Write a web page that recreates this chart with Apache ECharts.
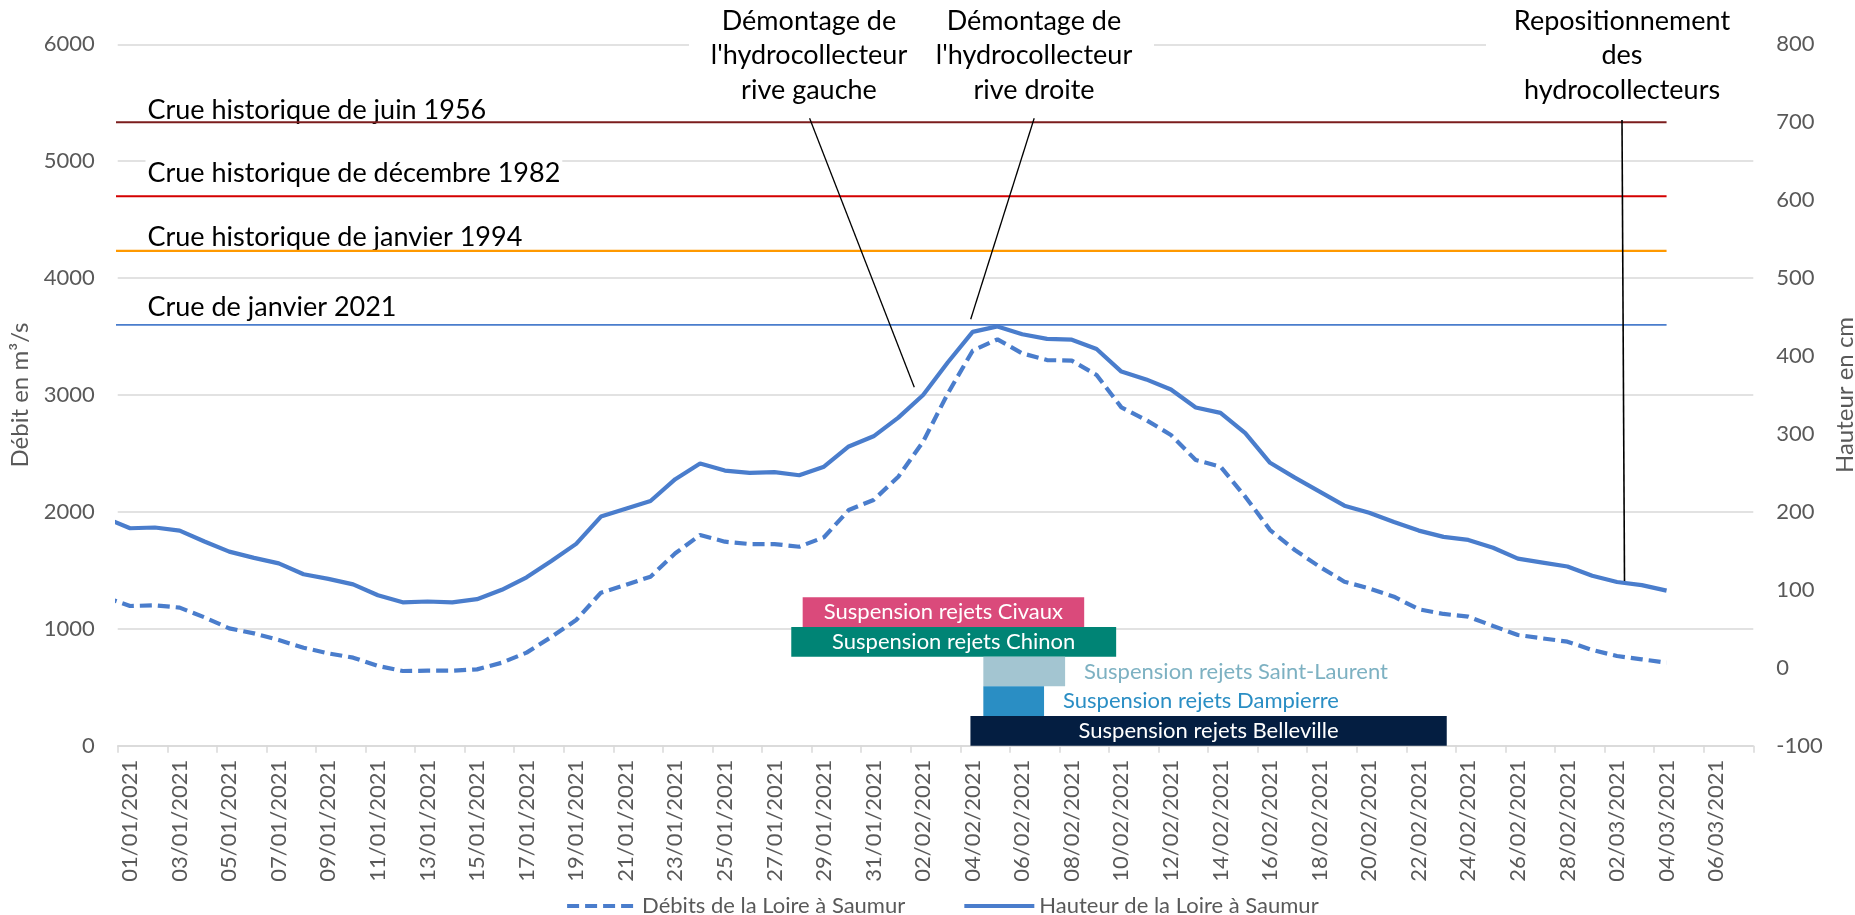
<!DOCTYPE html>
<html>
<head>
<meta charset="utf-8">
<script src="https://cdn.jsdelivr.net/npm/echarts@6/dist/echarts.min.js"></script>
<style>
html,body{margin:0;padding:0;background:#fff;}
#c{width:1855px;height:915px;}
</style>
</head>
<body>
<div id="c"></div>
<script>
// ---------- DATA ----------
const dates = [
  '01/01/2021','02/01/2021','03/01/2021','04/01/2021','05/01/2021','06/01/2021','07/01/2021','08/01/2021','09/01/2021','10/01/2021',
  '11/01/2021','12/01/2021','13/01/2021','14/01/2021','15/01/2021','16/01/2021','17/01/2021','18/01/2021','19/01/2021','20/01/2021',
  '21/01/2021','22/01/2021','23/01/2021','24/01/2021','25/01/2021','26/01/2021','27/01/2021','28/01/2021','29/01/2021','30/01/2021',
  '31/01/2021','01/02/2021','02/02/2021','03/02/2021','04/02/2021','05/02/2021','06/02/2021','07/02/2021','08/02/2021','09/02/2021',
  '10/02/2021','11/02/2021','12/02/2021','13/02/2021','14/02/2021','15/02/2021','16/02/2021','17/02/2021','18/02/2021','19/02/2021',
  '20/02/2021','21/02/2021','22/02/2021','23/02/2021','24/02/2021','25/02/2021','26/02/2021','27/02/2021','28/02/2021','01/03/2021',
  '02/03/2021','03/03/2021','04/03/2021','05/03/2021','06/03/2021','07/03/2021'
];
// values start on 31/12/2020 (day index -1), end on 04/03/2021
const seriesFirstDay = -1;
const debits = [1269,
  1195,1201,1181,1098,1004,961,904,838,790,753,
  682,639,642,642,653,710,796,930,1075,1309,
  1375,1446,1646,1802,1745,1725,1725,1702,1783,2016,
  2102,2301,2601,3014,3379,3476,3356,3299,3294,3171,
  2894,2786,2658,2444,2387,2130,1845,1674,1531,1403,
  1345,1275,1167,1127,1104,1024,947,918,890,819,
  767,739,710];
const hauteurs = [192,
  179,180,176,162,149,141,134,120,114,107,
  93,84,85,84,88,100,116,137,159,194,
  204,214,242,262,253,250,251,247,258,284,
  297,321,350,392,431,438,428,422,421,409,
  380,370,357,334,327,301,263,244,226,208,
  199,187,176,168,164,154,140,135,130,118,
  110,106,99];
const seriesNames = ['Débits de la Loire à Saumur', 'Hauteur de la Loire à Saumur'];

const crueNames = ['Crue historique de juin 1956', 'Crue historique de décembre 1982', 'Crue historique de janvier 1994', 'Crue de janvier 2021'];
const crueLevels = [700, 605, 535, 440];   // cm
const crueFirstDay = -1, crueLastDay = 62;

const ganttNames = ['Suspension rejets Civaux', 'Suspension rejets Chinon', 'Suspension rejets Saint-Laurent', 'Suspension rejets Dampierre', 'Suspension rejets Belleville'];
const ganttStart = [27.64, 27.18, 34.93, 34.93, 34.41]; // in days from 01/01 00h
const ganttEnd   = [39.00, 40.29, 38.23, 37.38, 53.63];

const leftAxis = {min: 0, max: 6000, interval: 1000};
const rightAxis = {min: -100, max: 800, interval: 100};

const annotations = [
  "Démontage de\nl'hydrocollecteur\nrive gauche",
  "Démontage de\nl'hydrocollecteur\nrive droite",
  "Repositionnement\ndes\nhydrocollecteurs"
];

// ---------- STYLE ----------
const FONT = 'Lato, sans-serif';
const GREY = '#595959';
const GRID = '#d9d9d9';
const BLUE = '#4a7dcc';
const crueColors = ['#7b1d1d', '#d40000', '#ff9900', BLUE];
const crueWidths = [2.2, 2.2, 2.2, 1.8];
const ganttColors = ['#da4a7b', '#008475', '#a3c5d1', '#2a8ec4', '#041e41'];
const ganttInside = [true, true, false, false, true];
const ganttTextColors = ['#fff', '#fff', '#7db1c2', '#2a8ec4', '#fff'];

const G = {left: 117.7, right: 101.7, top: 44.3, bottom: 169.3};

const chart = echarts.init(document.getElementById('c'), null, {renderer: 'canvas'});

const toXY = (arr, first) => arr.map((v, k) => [first + k + 0.5, v]);

const series = [];
crueLevels.forEach((lvl, i) => {
  series.push({
    type: 'line', name: crueNames[i], xAxisIndex: 1, yAxisIndex: 1,
    data: [[crueFirstDay + 0.5, lvl], [crueLastDay + 0.5, lvl]],
    symbol: 'none', silent: true, z: 2,
    lineStyle: {color: crueColors[i], width: crueWidths[i]}
  });
});
series.push({
  type: 'line', name: seriesNames[0], xAxisIndex: 1, yAxisIndex: 0,
  data: toXY(debits, seriesFirstDay), symbol: 'none', z: 3,
  lineStyle: {color: BLUE, width: 4.2, type: [12, 6]}, itemStyle: {color: BLUE}
});
series.push({
  type: 'line', name: seriesNames[1], xAxisIndex: 1, yAxisIndex: 1,
  data: toXY(hauteurs, seriesFirstDay), symbol: 'none', z: 3,
  lineStyle: {color: BLUE, width: 4.2}, itemStyle: {color: BLUE}
});
series.push({
  type: 'custom', xAxisIndex: 2, yAxisIndex: 2, z: 4, silent: true,
  encode: {x: [1, 2], y: 0},
  data: ganttNames.map((n, i) => [i, ganttStart[i], ganttEnd[i]]),
  renderItem: (params, api) => {
    const i = params.dataIndex;
    const row = api.value(0);
    const p0 = api.coord([api.value(1), row]);
    const p1 = api.coord([api.value(2), row]);
    const h = api.size([0, 1])[1];
    const inside = ganttInside[i];
    return {
      type: 'group',
      children: [
        {type: 'rect', shape: {x: p0[0], y: p0[1] - h / 2, width: p1[0] - p0[0], height: h},
         style: {fill: ganttColors[i]}},
        {type: 'text', style: {
          text: ganttNames[i], x: inside ? (p0[0] + p1[0]) / 2 : p1[0] + 19, y: p0[1],
          fill: ganttTextColors[i], font: '22px ' + FONT,
          align: inside ? 'center' : 'left', verticalAlign: 'middle'}}
      ]
    };
  }
});

const annoFont = '27px ' + FONT;
const graphic = [
  // white boxes behind the annotations
  {type: 'rect', z: 1, shape: {x: 689, y: 0, width: 465, height: 112}, style: {fill: '#fff'}},
  {type: 'rect', z: 1, shape: {x: 1486, y: 0, width: 275, height: 112}, style: {fill: '#fff'}},
  {type: 'text', z: 1, style: {text: annotations[0], x: 809, y: 4, align: 'center', verticalAlign: 'top', lineHeight: 34.5, font: annoFont, fill: '#000'}},
  {type: 'text', z: 1, style: {text: annotations[1], x: 1034, y: 4, align: 'center', verticalAlign: 'top', lineHeight: 34.5, font: annoFont, fill: '#000'}},
  {type: 'text', z: 1, style: {text: annotations[2], x: 1622, y: 4, align: 'center', verticalAlign: 'top', lineHeight: 34.5, font: annoFont, fill: '#000'}},
  // leader lines
  {type: 'line', z: 5, shape: {x1: 809.6, y1: 118.3, x2: 914.3, y2: 387.3}, style: {stroke: '#000', lineWidth: 1.3}},
  {type: 'line', z: 5, shape: {x1: 1034.2, y1: 118.3, x2: 970.7, y2: 319.3}, style: {stroke: '#000', lineWidth: 1.3}},
  {type: 'line', z: 5, shape: {x1: 1622, y1: 120, x2: 1624.5, y2: 581}, style: {stroke: '#000', lineWidth: 1.6}}
];
const crueLabelY = [110.2, 173.6, 236.9, 306.9];
crueNames.forEach((n, i) => {
  graphic.push({type: 'text', z: 1, style: {
    text: n, x: 145.5, y: crueLabelY[i], align: 'left', verticalAlign: 'middle',
    font: annoFont, fill: '#000', backgroundColor: '#fff', padding: [4, 2, 1, 2]}});
});

chart.setOption({
  animation: false,
  backgroundColor: '#fff',
  textStyle: {fontFamily: FONT},
  grid: [
    Object.assign({containLabel: false, outerBoundsMode: 'none'}, G),
    {left: G.left, right: G.right, top: 597.3, bottom: G.bottom, containLabel: false, outerBoundsMode: 'none'}
  ],
  legend: {
    data: seriesNames, left: 560, top: 890, itemWidth: 70, itemHeight: 14, itemGap: 57,
    selectedMode: false,
    itemStyle: {opacity: 0},
    lineStyle: {width: 4.2},
    textStyle: {color: GREY, fontSize: 22, fontFamily: FONT}
  },
  xAxis: [
    {type: 'category', gridIndex: 0, data: dates, boundaryGap: true,
     axisLine: {lineStyle: {color: GRID, width: 1.5}},
     axisTick: {show: true, interval: 1, length: 7, lineStyle: {color: GRID, width: 1.5}},
     axisLabel: {interval: 1, rotate: 90, margin: 14, color: GREY, fontSize: 22, fontFamily: FONT},
     splitLine: {show: false}},
    {type: 'value', gridIndex: 0, min: 0, max: dates.length, show: false},
    {type: 'value', gridIndex: 1, min: 0, max: dates.length, show: false}
  ],
  yAxis: [
    {type: 'value', gridIndex: 0, min: leftAxis.min, max: leftAxis.max, interval: leftAxis.interval,
     name: 'Débit en m³/s', nameLocation: 'middle', nameGap: 82, nameRotate: 90,
     nameTextStyle: {color: GREY, fontSize: 24, fontFamily: FONT},
     axisLine: {show: false}, axisTick: {show: false},
     axisLabel: {color: GREY, fontSize: 22, fontFamily: FONT, margin: 23, formatter: v => String(v)},
     splitLine: {lineStyle: {color: GRID, width: 1.5}}},
    {type: 'value', gridIndex: 0, position: 'right', min: rightAxis.min, max: rightAxis.max, interval: rightAxis.interval,
     name: 'Hauteur en cm', nameLocation: 'middle', nameGap: 80, nameRotate: 90,
     nameTextStyle: {color: GREY, fontSize: 24, fontFamily: FONT},
     axisLine: {show: false}, axisTick: {show: false},
     axisLabel: {color: GREY, fontSize: 22, fontFamily: FONT, margin: 23, formatter: v => String(v)},
     splitLine: {show: false}},
    {type: 'category', gridIndex: 1, data: ganttNames, inverse: true, show: false}
  ],
  series: series,
  graphic: graphic
});
</script>
</body>
</html>
